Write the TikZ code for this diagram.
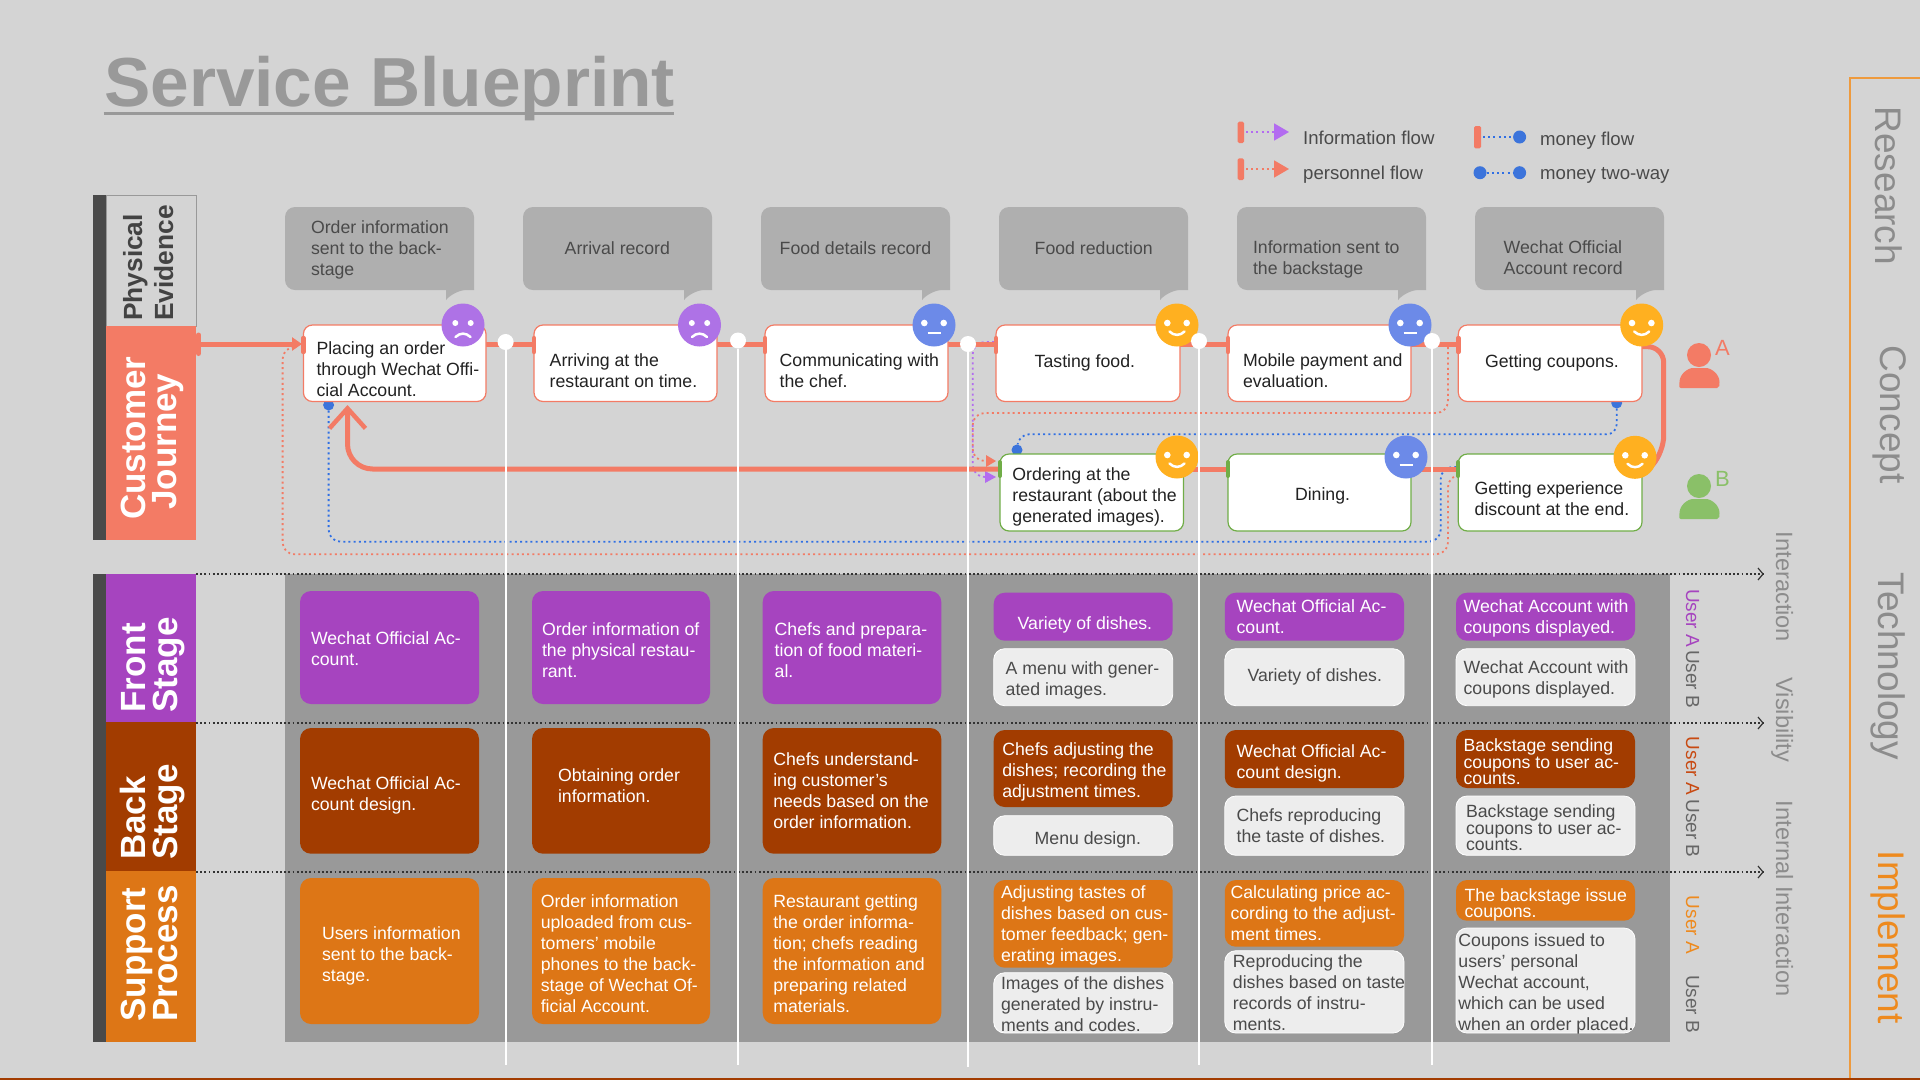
\documentclass[tikz,border=0pt]{standalone}
\usepackage{fontspec}
\setmainfont{Liberation Sans}
\usetikzlibrary{arrows.meta}
\definecolor{bgc}{HTML}{D4D4D4}
\definecolor{panelc}{HTML}{999999}
\definecolor{coral}{HTML}{F37B65}
\definecolor{purc}{HTML}{A644BF}
\definecolor{brnc}{HTML}{A23C00}
\definecolor{orgc}{HTML}{DD7616}
\definecolor{lgtc}{HTML}{EDEDED}
\definecolor{darkbar}{HTML}{4A4A4A}
\definecolor{bubc}{HTML}{AFAFAF}
\definecolor{txtd}{HTML}{4A4A4A}
\definecolor{txtk}{HTML}{222222}
\definecolor{grn}{HTML}{70AD47}
\definecolor{grnl}{HTML}{8AC068}
\definecolor{fpur}{HTML}{AE72E6}
\definecolor{fblu}{HTML}{6C8AE8}
\definecolor{fyel}{HTML}{FFB020}
\definecolor{dpur}{HTML}{B36CF0}
\definecolor{dblu}{HTML}{2F6FE4}
\definecolor{dotb}{HTML}{3C74DB}
\definecolor{sideg}{HTML}{8C8C8C}
\definecolor{frameo}{HTML}{EE9A3D}
\definecolor{impl}{HTML}{EE8A1E}
\definecolor{usrb}{HTML}{C84A12}
\definecolor{usrg}{HTML}{666666}
\tikzset{
  base txt/.style={anchor=west,align=left,inner sep=0pt,outer sep=0pt,yshift=-2.4pt,
    font=\fontsize{17.7}{21}\selectfont,
    execute at begin node=\strut,execute at end node=\strut},
  anybox/.style={inner sep=0pt,outer sep=0pt,rounded corners=11pt},
  purbox/.style={anybox,fill=purc},
  brnbox/.style={anybox,fill=brnc},
  orgbox/.style={anybox,fill=orgc},
  lgtbox/.style={anybox,fill=lgtc,draw=white,line width=0.8pt},
  purtxt/.style={base txt,text=white},
  brntxt/.style={base txt,text=white},
  orgtxt/.style={base txt,text=white},
  lgttxt/.style={base txt,text=txtd},
  brnTbox/.style={brnbox},
  orgTbox/.style={orgbox},
  lgtTbox/.style={lgtbox},
  brnTtxt/.style={brntxt,font=\fontsize{17.7}{16.7}\selectfont},
  orgTtxt/.style={orgtxt,font=\fontsize{17.7}{16.7}\selectfont},
  lgtTtxt/.style={lgttxt,font=\fontsize{17.7}{16.7}\selectfont},
  jrbox/.style={anybox,rounded corners=9pt,fill=white,draw=coral,line width=1.2pt},
  jgbox/.style={anybox,rounded corners=9pt,fill=white,draw=grn,line width=1.2pt},
  jrtxt/.style={base txt,text=txtk},
  jgtxt/.style={base txt,text=txtk},
  bubtxt/.style={base txt,text=txtd},
  rotup/.style={rotate=90,anchor=base west,inner sep=0pt},
  rotdn/.style={rotate=-90,anchor=base west,inner sep=0pt},
  bandbig/.style={rotup,text=white,font=\fontsize{35}{35}\selectfont\bfseries},
  bandsmall/.style={rotup,text=darkbar!90!black,font=\fontsize{26.3}{27}\selectfont\bfseries},
  sidebig/.style={rotdn,text=sideg,font=\fontsize{37}{37}\selectfont},
  sidemid/.style={rotdn,text=sideg,font=\fontsize{23.6}{24}\selectfont},
  usrlab/.style={rotdn,font=\fontsize{19}{19}\selectfont},
  legtxt/.style={anchor=west,inner sep=0pt,text=txtd,font=\fontsize{18.6}{21}\selectfont},
  mainline/.style={draw=coral,line width=5pt},
  capr/.style={draw=coral,line width=5pt,line cap=round},
  capg/.style={draw=grn,line width=4pt,line cap=round},
  dotline/.style={line width=1.8pt,dash pattern=on 2pt off 3.2pt},
  dcoral/.style={dotline,draw=coral},
  dpurple/.style={dotline,draw=dpur},
  dblue/.style={dotline,draw=dblu},
  layerline/.style={draw=black!80,line width=1.6pt,dash pattern=on 1.8pt off 2.4pt},
  moneydot/.style={circle,fill=dotb,inner sep=0pt,minimum size=11pt},
  legdot/.style={circle,fill=dotb,inner sep=0pt,minimum size=13pt},
  whitedot/.style={circle,fill=white,inner sep=0pt,minimum size=16pt},
  facebase/.style={circle,inner sep=0pt,minimum size=43pt},
  wline/.style={draw=white,line width=2pt},
}
\newcommand\gridcell[9]{%
  \pgfmathsetlengthmacro\cellW{(#4-#2)*1pt}%
  \pgfmathsetlengthmacro\cellH{(#5-#3)*1pt}%
  \node[#6box,minimum width=\cellW,minimum height=\cellH] (#1) at ({(#2+#4)/2},{(#3+#5)/2}) {};
  \node[#6txt] (#1t) at (#7,#8) {#9};}
\newcommand\bubble[6]{% name x1 x2 tx ty text
  \fill[bubc,rounded corners=10pt] (#3,290) -- (#2,290) -- (#2,207) -- (#3,207) [sharp corners] -- cycle;
  \fill[bubc] ({#3-28},289) -- ({#3-28},300) .. controls ({#3-22},293) and ({#3-12},289) .. (#3,289) -- cycle;
  \node[bubtxt] (#1) at (#4,#5) {#6};}
\newcommand\faceeyes[2]{%
  \fill[white] (-#1,-2) circle (#2pt); \fill[white] (#1,-2) circle (#2pt);}
\newcommand\facehappy[4]{%
  \node[facebase,fill=#4] (#1) at (#2,#3) {};
  \begin{scope}[shift={(#2,#3)}]\faceeyes{9.7}{3.3}
  \draw[white,line width=2.5pt,line cap=round] (-7.5,6.5) .. controls (-3,11) and (3,11) .. (7.5,6.5);
  \end{scope}}
\newcommand\faceflat[4]{%
  \node[facebase,fill=#4] (#1) at (#2,#3) {};
  \begin{scope}[shift={(#2,#3)}]\faceeyes{9.7}{3.3}
  \draw[white,line width=2.8pt] (-6.5,8) -- (6.5,8);
  \end{scope}}
\newcommand\facesad[4]{%
  \node[facebase,fill=#4] (#1) at (#2,#3) {};
  \begin{scope}[shift={(#2,#3)}]\faceeyes{7.7}{3}
  \draw[white,line width=2.5pt,line cap=round] (-7.5,12) .. controls (-3,7.5) and (3,7.5) .. (7.5,12);
  \end{scope}}
\newcommand\person[5]{% name headx heady colour letter
  \node[circle,fill=#4,inner sep=0pt,minimum size=24pt] (#1) at (#2,#3) {};
  \fill[#4,rounded corners=2pt] ({#2-20},{#3+33}) -- ({#2-19.5},{#3+29}) .. controls ({#2-19.5},{#3+19}) and ({#2-11},{#3+13}) .. ({#2-4},{#3+13}) -- ({#2+5},{#3+13}) .. controls ({#2+12},{#3+13}) and ({#2+20.5},{#3+19}) .. ({#2+20.5},{#3+29}) -- ({#2+20},{#3+33}) -- cycle;
  \node[anchor=base west,inner sep=0pt,text=#4,font=\fontsize{22}{22}\selectfont] (#1l) at ({#2+16},{#3+0.5}) {#5};}
\begin{document}
\begin{tikzpicture}[x=1pt,y=-1pt]
\useasboundingbox (0,0) rectangle (1920,1080);
\fill[bgc] (0,0) rectangle (1920,1080);
% reference levels for the connectors
\coordinate (mA) at (0,344);
\coordinate (mB) at (0,469);
% frame on the right and bottom rule
\draw[frameo,line width=1.2pt] (1920,78) -- (1850,78) -- (1850,1080);
\draw[brnc,line width=2.4pt] (0,1079) -- (1920,1079);
% title
\node[anchor=base west,inner sep=0pt,text=panelc,font=\fontsize{69.4}{70}\selectfont\bfseries] (title) at (104,106.7) {Service Blueprint};
\draw[panelc,line width=3.5pt] (103.7,113.3) -- (674,113.3);
% left bands
\fill[darkbar] (92.5,195) rectangle (106,540);
\fill[darkbar] (92.5,574) rectangle (106,1042);
\fill[bgc,draw=panelc,line width=0.8pt] (106,195) rectangle (196,326);
\fill[coral] (106,326) rectangle (196,540);
\fill[purc] (106,574) rectangle (196,722);
\fill[brnc] (106,722) rectangle (196,871);
\fill[orgc] (106,871) rectangle (196,1042);
\node[bandsmall] (lp) at (142,321) {Physical};
\node[bandsmall] (le) at (173,321) {Evidence};
\node[bandbig] (lc) at (145.4,520) {Customer};
\node[bandbig] (lj) at (176.5,510) {Journey};
\node[bandbig] (lf) at (145,712.7) {Front};
\node[bandbig] (ls) at (177,712.7) {Stage};
\node[bandbig] (lb) at (145,860) {Back};
\node[bandbig] (lt) at (177,860) {Stage};
\node[bandbig] (lu) at (145,1021.7) {Support};
\node[bandbig] (lo) at (177,1021.7) {Process};
% panel
\fill[panelc] (285,574) rectangle (1670,1042);
% layer lines
\coordinate (laEnd) at (1763,574);
\coordinate (lbEnd) at (1763,723);
\coordinate (lcEnd) at (1763,872);
\draw[layerline] (196,574) -- (laEnd);
\draw[layerline] (196,723) -- (lbEnd);
\draw[layerline] (196,872) -- (lcEnd);
\foreach \e in {laEnd,lbEnd,lcEnd}
  \draw[black!80,line width=1.2pt] ([shift={(-5,-6)}]\e) -- (\e) -- ([shift={(-5,6)}]\e);
% legend
\fill[coral,rounded corners=1.5pt] (1237.6,121.7) rectangle (1244,143);
\fill[coral,rounded corners=1.5pt] (1237.6,158.3) rectangle (1244,180);
\fill[coral,rounded corners=1.5pt] (1474,126) rectangle (1481,148.3);
\coordinate (li1) at (1289,132);
\coordinate (li2) at (1289,169);
\coordinate (li1s) at (1246,132);
\coordinate (li2s) at (1246,169);
\draw[dpurple,-{Triangle[length=15pt,width=17pt,fill=dpur]}] (li1s) -- (li1);
\draw[dcoral,-{Triangle[length=15pt,width=17pt,fill=coral]}] (li2s) -- (li2);
\node[legdot] (lm1) at (1519.6,137) {};
\node[legdot] (lm2) at (1480,172.7) {};
\node[legdot] (lm3) at (1519.6,172.7) {};
\coordinate (lm1s) at (1483,137);
\draw[dblue] (lm1s) -- (lm1);
\draw[dblue] (lm2) -- (lm3);
\node[legtxt] (lt1) at (1303,137.7) {Information flow};
\node[legtxt] (lt2) at (1303,174.3) {personnel flow};
\node[legtxt] (lt3) at (1540,140.3) {money flow};
\node[legtxt] (lt4) at (1540,175) {money two-way};
% bubbles
\bubble{bb1}{285}{474}{311}{249}{Order information\\sent to the back-\\stage}
\bubble{bb2}{523}{712}{564.7}{248}{Arrival record}
\bubble{bb3}{761}{950}{779.7}{248}{Food details record}
\bubble{bb4}{999}{1188}{1034.7}{248}{Food reduction}
\bubble{bb5}{1237}{1426}{1253}{258.5}{Information sent to\\the backstage}
\bubble{bb6}{1475}{1664}{1503.7}{258}{Wechat Official\\Account record}
% ----- dotted connectors, under the boxes
\node[moneydot] (dA) at (328.6,405) {};
\node[moneydot] (dB) at (1017,450) {};
\node[moneydot] (dC) at (1616.7,403) {};
\coordinate (cpA) at (1448,347);
\coordinate (cpB) at (1448,413);
\coordinate (cpC) at (972.7,413);
\coordinate (cpD) at (972.7,461);
\coordinate (cpE) at (996,461);
\draw[dcoral,rounded corners=12pt] (cpA) -- (cpB) -- (cpC) -- (cpD) -- (984,461);
\fill[coral] (986,455) -- (cpE) -- (986,467) -- cycle;
\coordinate (ppA) at (994,342);
\coordinate (ppB) at (972.7,342);
\coordinate (ppC) at (972.7,477);
\coordinate (ppE) at (996,477);
\draw[dpurple,rounded corners=12pt] (ppA) -- (ppB) -- (ppC) -- (984,477);
\fill[dpur] (985,471) -- (ppE) -- (985,483) -- cycle;
\draw[dblue,rounded corners=10pt] (dC) -- (1616.7,434.3) -- (1019,434.3) -- (dB);
\draw[dblue,rounded corners=12pt] (dA) -- (328.6,541.7) -- (1440.7,541.7) -- (1440.7,467) -- (1457,467);
\draw[dcoral,rounded corners=12pt] (1456,475) -- (1448,475) -- (1448,554.3) -- (282.6,554.3) -- (282.6,347) -- (294,347);
% ----- main journey line, under the boxes
\coordinate (start) at (196,344);
\coordinate (turnA) at (347.5,469);
\coordinate (backTip) at (347.5,405);
\coordinate (rsA) at (1663.7,346.7);
\coordinate (rsB) at (1663.7,452);
\coordinate (rsC) at (1648,470);
\coordinate (rs0) at (1640,346.7);
\draw[mainline,rounded corners=16pt] (rs0) -- (rsA) -- (rsB) -- (rsC);
\draw[mainline] (1458,469) -- (1183,469);
\draw[mainline,rounded corners=25pt,-{Straight Barb[length=20pt,width=36pt,line width=4.5pt]}] (1000,469) -- (turnA) -- (backTip);
\draw[mainline,-{Triangle[length=10pt,width=13pt]}] (start) -- (302,344);
\draw[mainline] (486,344) -- (534,344);
\draw[mainline] (717,344) -- (765,344);
\draw[mainline] (948,344) -- (996,344);
\draw[mainline] (1180,344) -- (1228,344);
\draw[mainline] (1411,344) -- (1458,344);
\gridcell{ja}{303.4}{325}{486}{401.5}{jr}{316.5}{370}{Placing an order\\through Wechat Offi-\\cial Account.}
\gridcell{jb}{534}{325}{717}{401.5}{jr}{549.7}{371}{Arriving at the\\restaurant on time.}
\gridcell{jc}{765}{325}{948}{401.5}{jr}{779.7}{371}{Communicating with\\the chef.}
\gridcell{jd}{996}{325}{1180}{401.5}{jr}{1034.7}{361}{Tasting food.}
\gridcell{je}{1228}{325}{1411}{401.5}{jr}{1243}{371}{Mobile payment and\\evaluation.}
\gridcell{jf}{1458.3}{325}{1642}{401.5}{jr}{1485}{361}{Getting coupons.}
\gridcell{ka}{1000}{454}{1183.5}{531}{jg}{1012.4}{496}{Ordering at the\\restaurant (about the\\generated images).}
\gridcell{kb}{1228}{454}{1411}{531}{jg}{1295}{494}{Dining.}
\gridcell{kc}{1458.3}{454}{1642}{531}{jg}{1474.7}{499.5}{Getting experience\\discount at the end.}
% stop bars
\draw[capr] (198.5,335) -- (198.5,353.5);
\foreach \n in {ja,jb,jc,jd,je,jf}
  \draw[capr,line width=4.4pt] ([yshift=-8pt]\n.west |- mA) -- ([yshift=6pt]\n.west |- mA);
\foreach \n in {ka,kb,kc}
  \draw[capg] ([yshift=-7pt]\n.west |- mB) -- ([yshift=7pt]\n.west |- mB);
% grid cells
\gridcell{fa}{300}{591}{479}{704}{pur}{311}{649.7}{Wechat Official Ac-\\count.}
\gridcell{fb}{532}{591}{710}{704}{pur}{542}{651}{Order information of\\the physical restau-\\rant.}
\gridcell{fc}{762.7}{591}{941.3}{704}{pur}{774.7}{651}{Chefs and prepara-\\tion of food materi-\\al.}
\gridcell{fd}{993.7}{592.7}{1172.7}{640.7}{pur}{1017.7}{622.7}{Variety of dishes.}
\gridcell{fD}{993.7}{648.7}{1172.7}{705.7}{lgt}{1005.7}{679.5}{A menu with gener-\\ated images.}
\gridcell{fe}{1224.8}{592.7}{1404}{640.7}{pur}{1236.6}{617.3}{Wechat Official Ac-\\count.}
\gridcell{fE}{1224.8}{648.7}{1404}{705.7}{lgt}{1247.5}{675.3}{Variety of dishes.}
\gridcell{ff}{1456}{592.7}{1635}{640.7}{pur}{1463.6}{617.3}{Wechat Account with\\coupons displayed.}
\gridcell{fF}{1456}{648.7}{1635}{705.7}{lgt}{1463.6}{678.5}{Wechat Account with\\coupons displayed.}
\gridcell{ga}{300}{728}{479}{853.7}{brn}{311}{794}{Wechat Official Ac-\\count design.}
\gridcell{gb}{532}{728}{710}{853.7}{brn}{558}{786.7}{Obtaining order\\information.}
\gridcell{gc}{762.7}{728}{941.3}{853.7}{brn}{773.3}{791.5}{Chefs understand-\\ing customer's\\needs based on the\\order information.}
\gridcell{gd}{993.7}{730}{1172.7}{807}{brn}{1002.3}{770.7}{Chefs adjusting the\\dishes; recording the\\adjustment times.}
\gridcell{gD}{993.7}{815.7}{1172.7}{855.3}{lgt}{1034.7}{838.3}{Menu design.}
\gridcell{ge}{1224.8}{730}{1404}{788}{brn}{1236.6}{762.8}{Wechat Official Ac-\\count design.}
\gridcell{gE}{1224.8}{796}{1404}{855.3}{lgt}{1236.6}{826.5}{Chefs reproducing\\the taste of dishes.}
\gridcell{gf}{1456}{730}{1635}{788}{brnT}{1463.6}{761.7}{Backstage sending\\coupons to user ac-\\counts.}
\gridcell{gF}{1456}{796}{1635}{855.3}{lgtT}{1466}{827.7}{Backstage sending\\coupons to user ac-\\counts.}
\gridcell{ha}{300}{878}{479}{1024}{org}{322}{955}{Users information\\sent to the back-\\stage.}
\gridcell{hb}{532}{878}{710}{1024}{org}{540.8}{954.5}{Order information\\uploaded from cus-\\tomers' mobile\\phones to the back-\\stage of Wechat Of-\\ficial Account.}
\gridcell{hc}{762.7}{878}{941.3}{1024}{org}{773.3}{954.3}{Restaurant getting\\the order informa-\\tion; chefs reading\\the information and\\preparing related\\materials.}
\gridcell{hd}{993.7}{880}{1172.7}{967.7}{org}{1001}{924.7}{Adjusting tastes of\\dishes based on cus-\\tomer feedback; gen-\\erating images.}
\gridcell{hD}{993.7}{972.7}{1172.7}{1033}{lgt}{1001}{1004.7}{Images of the dishes\\generated by instru-\\ments and codes.}
\gridcell{he}{1224.8}{880}{1404}{946.7}{org}{1230.5}{914.3}{Calculating price ac-\\cording to the adjust-\\ment times.}
\gridcell{hE}{1224.8}{950.7}{1404}{1033}{lgt}{1232.9}{993.7}{Reproducing the\\dishes based on taste\\records of instru-\\ments.}
\gridcell{hf}{1456}{880}{1635}{920.7}{orgT}{1464.6}{903.3}{The backstage issue\\coupons.}
\gridcell{hF}{1456}{928}{1635}{1033}{lgt}{1458.4}{983}{Coupons issued to\\users' personal\\Wechat account,\\which can be used\\when an order placed.}
% user labels
\node[usrlab,text=purc] (u1) at (1686,589) {User A};
\node[usrlab,text=usrg] (u2) at (1686,650) {User B};
\node[usrlab,text=usrb] (u3) at (1686,736.7) {User A};
\node[usrlab,text=usrg] (u4) at (1686,799.3) {User B};
\node[usrlab,text=impl] (u5) at (1686,895.7) {User A};
\node[usrlab,text=usrg] (u6) at (1686,975) {User B};
% side labels
\node[sidemid] (s1) at (1776,531.7) {Interaction};
\node[sidemid] (s2) at (1776,677.3) {Visibility};
\node[sidemid] (s3) at (1776,800.7) {Internal Interaction};
\node[sidebig] (s4) at (1875.7,106.5) {Research};
\node[sidebig] (s5) at (1880,345.5) {Concept};
\node[sidebig] (s6) at (1878.4,572.5) {Technology};
\node[sidebig,text=impl] (s7) at (1878.4,850.5) {Implement};
% faces
\facesad{fa1}{463}{325}{fpur}
\facesad{fa2}{699.5}{325}{fpur}
\faceflat{fa3}{934}{325}{fblu}
\facehappy{fa4}{1177}{325}{fyel}
\faceflat{fa5}{1410}{325}{fblu}
\facehappy{fa6}{1641.7}{325}{fyel}
\facehappy{fa7}{1177}{457}{fyel}
\faceflat{fa8}{1406}{457}{fblu}
\facehappy{fa9}{1635}{457.3}{fyel}
% persons
\person{pa}{1699}{355}{coral}{A}
\person{pb}{1699}{486}{grnl}{B}
% white lines and dots
\node[whitedot] (w1) at (505.6,342) {};
\node[whitedot] (w2) at (738,340.5) {};
\node[whitedot] (w3) at (968,344) {};
\node[whitedot] (w4) at (1199,341) {};
\node[whitedot] (w5) at (1432,341) {};
\coordinate (e1) at (505.6,1065);
\coordinate (e2) at (738,1065);
\coordinate (e3) at (968,1067);
\coordinate (e4) at (1199,1065);
\coordinate (e5) at (1432,1065);
\foreach \i in {1,...,5} \draw[wline] (w\i) -- (e\i);
\end{tikzpicture}
\end{document}
